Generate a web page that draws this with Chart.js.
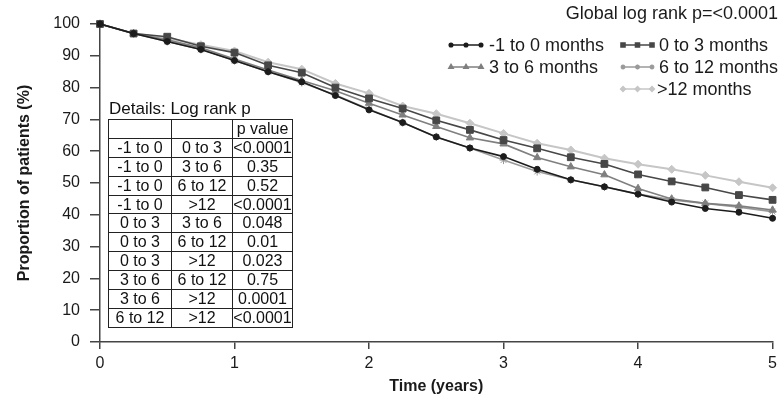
<!DOCTYPE html>
<html>
<head>
<meta charset="utf-8">
<script src="https://cdn.jsdelivr.net/npm/chart.js@4.4.1/dist/chart.umd.min.js"></script>
<style>
    html, body { margin: 0; padding: 0; background: #fff; }
    #wrap { position: relative; width: 782px; height: 405px; }
    #details { position: absolute; left: 108px; top: 99px; font: 16px "Liberation Sans", Arial, sans-serif; color: #111; }
    #details .cap { height: 20px; line-height: 20px; font-size: 17px; padding-left: 1px; }
    #details table { border-collapse: collapse; table-layout: fixed; }
    #details td { border: 1px solid #222; padding: 0; height: 17.9px; line-height: 16px; text-align: center; white-space: nowrap; }
</style>
</head>
<body>
<div id="wrap">
    <canvas id="survie" width="782" height="405"></canvas>
    <div id="details">
        <div class="cap">Details: Log rank p</div>
        <table id="pTable">
            <colgroup><col style="width:63px"><col style="width:61px"><col style="width:60px"></colgroup>
            <tbody></tbody>
        </table>
    </div>
</div>
<script>
// Temps (années)
const times = [0, 0.25, 0.5, 0.75, 1, 1.25, 1.5, 1.75, 2, 2.25, 2.5, 2.75, 3, 3.25, 3.5, 3.75, 4, 4.25, 4.5, 4.75, 5];

// Proportions de patients (%) par groupe
const minus1to0 = [100, 97, 94.5, 92, 88.5, 85, 81.8, 77.5, 73, 69, 64.5, 61, 58.3, 54.3, 51, 48.8, 46.5, 44, 42, 40.8, 38.9];
const from0to3  = [100, 97, 96, 93, 91, 87, 84.7, 80, 76.6, 73.4, 69.7, 66.7, 63.5, 60.9, 58.1, 56, 52.7, 50.5, 48.6, 46.2, 44.7];
const from3to6  = [100, 97, 95, 92.5, 89, 85.5, 82.2, 79, 75.1, 71.4, 67.8, 64.2, 62.3, 58, 55.1, 52.6, 48.3, 45, 43.6, 42.8, 41.5];
const from6to12 = [100, 97, 94.5, 92, 88.5, 85, 81.6, 77.7, 73.2, 69, 64.5, 61, 57.2, 53.6, 51, 48.8, 46.5, 44.7, 43.6, 42.4, 41];
const over12    = [100, 97, 95.5, 93.5, 91.5, 88, 85.8, 81.3, 78.2, 74.2, 71.8, 68.8, 65.6, 62.5, 60.4, 57.8, 55.9, 54.3, 52.4, 50.4, 48.5];

const seriesNames = ['-1 to 0 months', '0 to 3 months', '3 to 6 months', '6 to 12 months', '>12 months'];
const seriesValues = [minus1to0, from0to3, from3to6, from6to12, over12];

const xTicks = [0, 1, 2, 3, 4, 5];
const yTicks = [0, 10, 20, 30, 40, 50, 60, 70, 80, 90, 100];

const globalNote = 'Global log rank p=<0.0001';

// Tableau des log rank
const pairFirst  = ['-1 to 0', '-1 to 0', '-1 to 0', '-1 to 0', '0 to 3', '0 to 3', '0 to 3', '3 to 6', '3 to 6', '6 to 12'];
const pairSecond = ['0 to 3', '3 to 6', '6 to 12', '>12', '3 to 6', '6 to 12', '>12', '6 to 12', '>12', '>12'];
const pValues    = ['<0.0001', '0.35', '0.52', '<0.0001', '0.048', '0.01', '0.023', '0.75', '0.0001', '<0.0001'];

// Styles
const colors = ['#1c1c1c', '#474747', '#7f7f7f', '#9a9a9a', '#c6c6c6'];
const pointStyles = ['circle', 'rect', 'triangle', 'star', 'rectRot'];
const pointRadii = [3, 4.8, 4.2, 4, 4];

// Emplacement de la légende (x début trait, x fin trait, x texte, y)
const legendSlots = [
    { x0: 451, x1: 481, tx: 489, y: 45 },
    { x0: 623, x1: 652, tx: 659, y: 45 },
    { x0: 451, x1: 481, tx: 489, y: 67 },
    { x0: 623, x1: 652, tx: 659, y: 67 },
    { x0: 623, x1: 652, tx: 657, y: 89 }
];

// Remplit le tableau HTML
const tbody = document.querySelector('#pTable tbody');
let rows = '<tr><td></td><td></td><td>p value</td></tr>';
for (let i = 0; i < pValues.length; i++) {
    rows += '<tr><td>' + pairFirst[i] + '</td><td>' + pairSecond[i].replace('>', '&gt;') + '</td><td>' + pValues[i].replace('<', '&lt;') + '</td></tr>';
}
tbody.innerHTML = rows;

const FONT = '"Liberation Sans", Arial, sans-serif';
Chart.defaults.font.family = FONT;
Chart.defaults.color = '#1a1a1a';

function drawMarker(ctx, style, radius, x, y) {
    if (Chart.helpers && Chart.helpers.drawPoint) {
        Chart.helpers.drawPoint(ctx, { pointStyle: style, radius: radius, rotation: 0, borderWidth: 1 }, x, y);
    } else {
        ctx.beginPath();
        ctx.arc(x, y, radius, 0, Math.PI * 2);
        ctx.fill();
    }
}

const legendPlugin = {
    id: 'customLegend',
    afterDraw(chart) {
        const ctx = chart.ctx;
        ctx.save();
        ctx.font = '18px ' + FONT;
        ctx.fillStyle = '#1a1a1a';
        ctx.textBaseline = 'middle';
        ctx.textAlign = 'right';
        ctx.fillText(globalNote, 778, 14);
        ctx.textAlign = 'left';
        chart.data.datasets.forEach((ds, i) => {
            const s = legendSlots[i];
            ctx.strokeStyle = ds.borderColor;
            ctx.fillStyle = ds.borderColor;
            ctx.lineWidth = 1.5;
            ctx.beginPath();
            ctx.moveTo(s.x0, s.y);
            ctx.lineTo(s.x1, s.y);
            ctx.stroke();
            const mid = (s.x0 + s.x1) / 2;
            [s.x0, mid, s.x1].forEach(px => drawMarker(ctx, ds.pointStyle, ds.pointRadius * 0.6, px, s.y));
            ctx.fillStyle = '#1a1a1a';
            ctx.fillText(seriesNames[i], s.tx, s.y + 1);
        });
        ctx.restore();
    }
};

const datasets = seriesValues.map((vals, i) => ({
    label: seriesNames[i],
    data: times.map((t, j) => ({ x: t, y: vals[j] })),
    borderColor: colors[i],
    backgroundColor: colors[i],
    pointBackgroundColor: colors[i],
    pointBorderColor: colors[i],
    pointStyle: pointStyles[i],
    pointRadius: pointRadii[i],
    pointBorderWidth: 1,
    borderWidth: i === 4 ? 2 : 1.6,
    tension: 0,
    clip: false
}));

new Chart(document.getElementById('survie').getContext('2d'), {
    type: 'line',
    data: { datasets: datasets },
    options: {
        responsive: false,
        animation: false,
        layout: { padding: { top: 24, right: 9, left: 0, bottom: 0 } },
        plugins: { legend: { display: false }, tooltip: { enabled: false } },
        scales: {
            x: {
                type: 'linear',
                min: 0,
                max: 5,
                afterBuildTicks: s => { s.ticks = xTicks.map(v => ({ value: v })); },
                afterFit: s => { s.height = 63; },
                ticks: { font: { size: 16 }, padding: 5, color: '#1a1a1a' },
                grid: { drawOnChartArea: false, drawTicks: true, tickLength: 7, color: '#444', lineWidth: 1.5 },
                border: { color: '#444', width: 1.5 },
                title: { display: true, text: 'Time (years)', font: { size: 16, weight: 'bold' }, padding: { top: 0, bottom: 9 }, color: '#1a1a1a' }
            },
            y: {
                min: 0,
                max: 100,
                afterBuildTicks: s => { s.ticks = yTicks.map(v => ({ value: v })); },
                afterFit: s => { s.width = 100; },
                ticks: { font: { size: 16 }, padding: 10, color: '#1a1a1a' },
                grid: { drawOnChartArea: false, drawTicks: true, tickLength: 10, color: '#444', lineWidth: 1.5 },
                border: { color: '#444', width: 1.5 },
                title: { display: true, text: 'Proportion of patients (%)', font: { size: 16, weight: 'bold' }, padding: { top: 15, bottom: 0 }, color: '#1a1a1a' }
            }
        }
    },
    plugins: [legendPlugin]
});
</script>
</body>
</html>
